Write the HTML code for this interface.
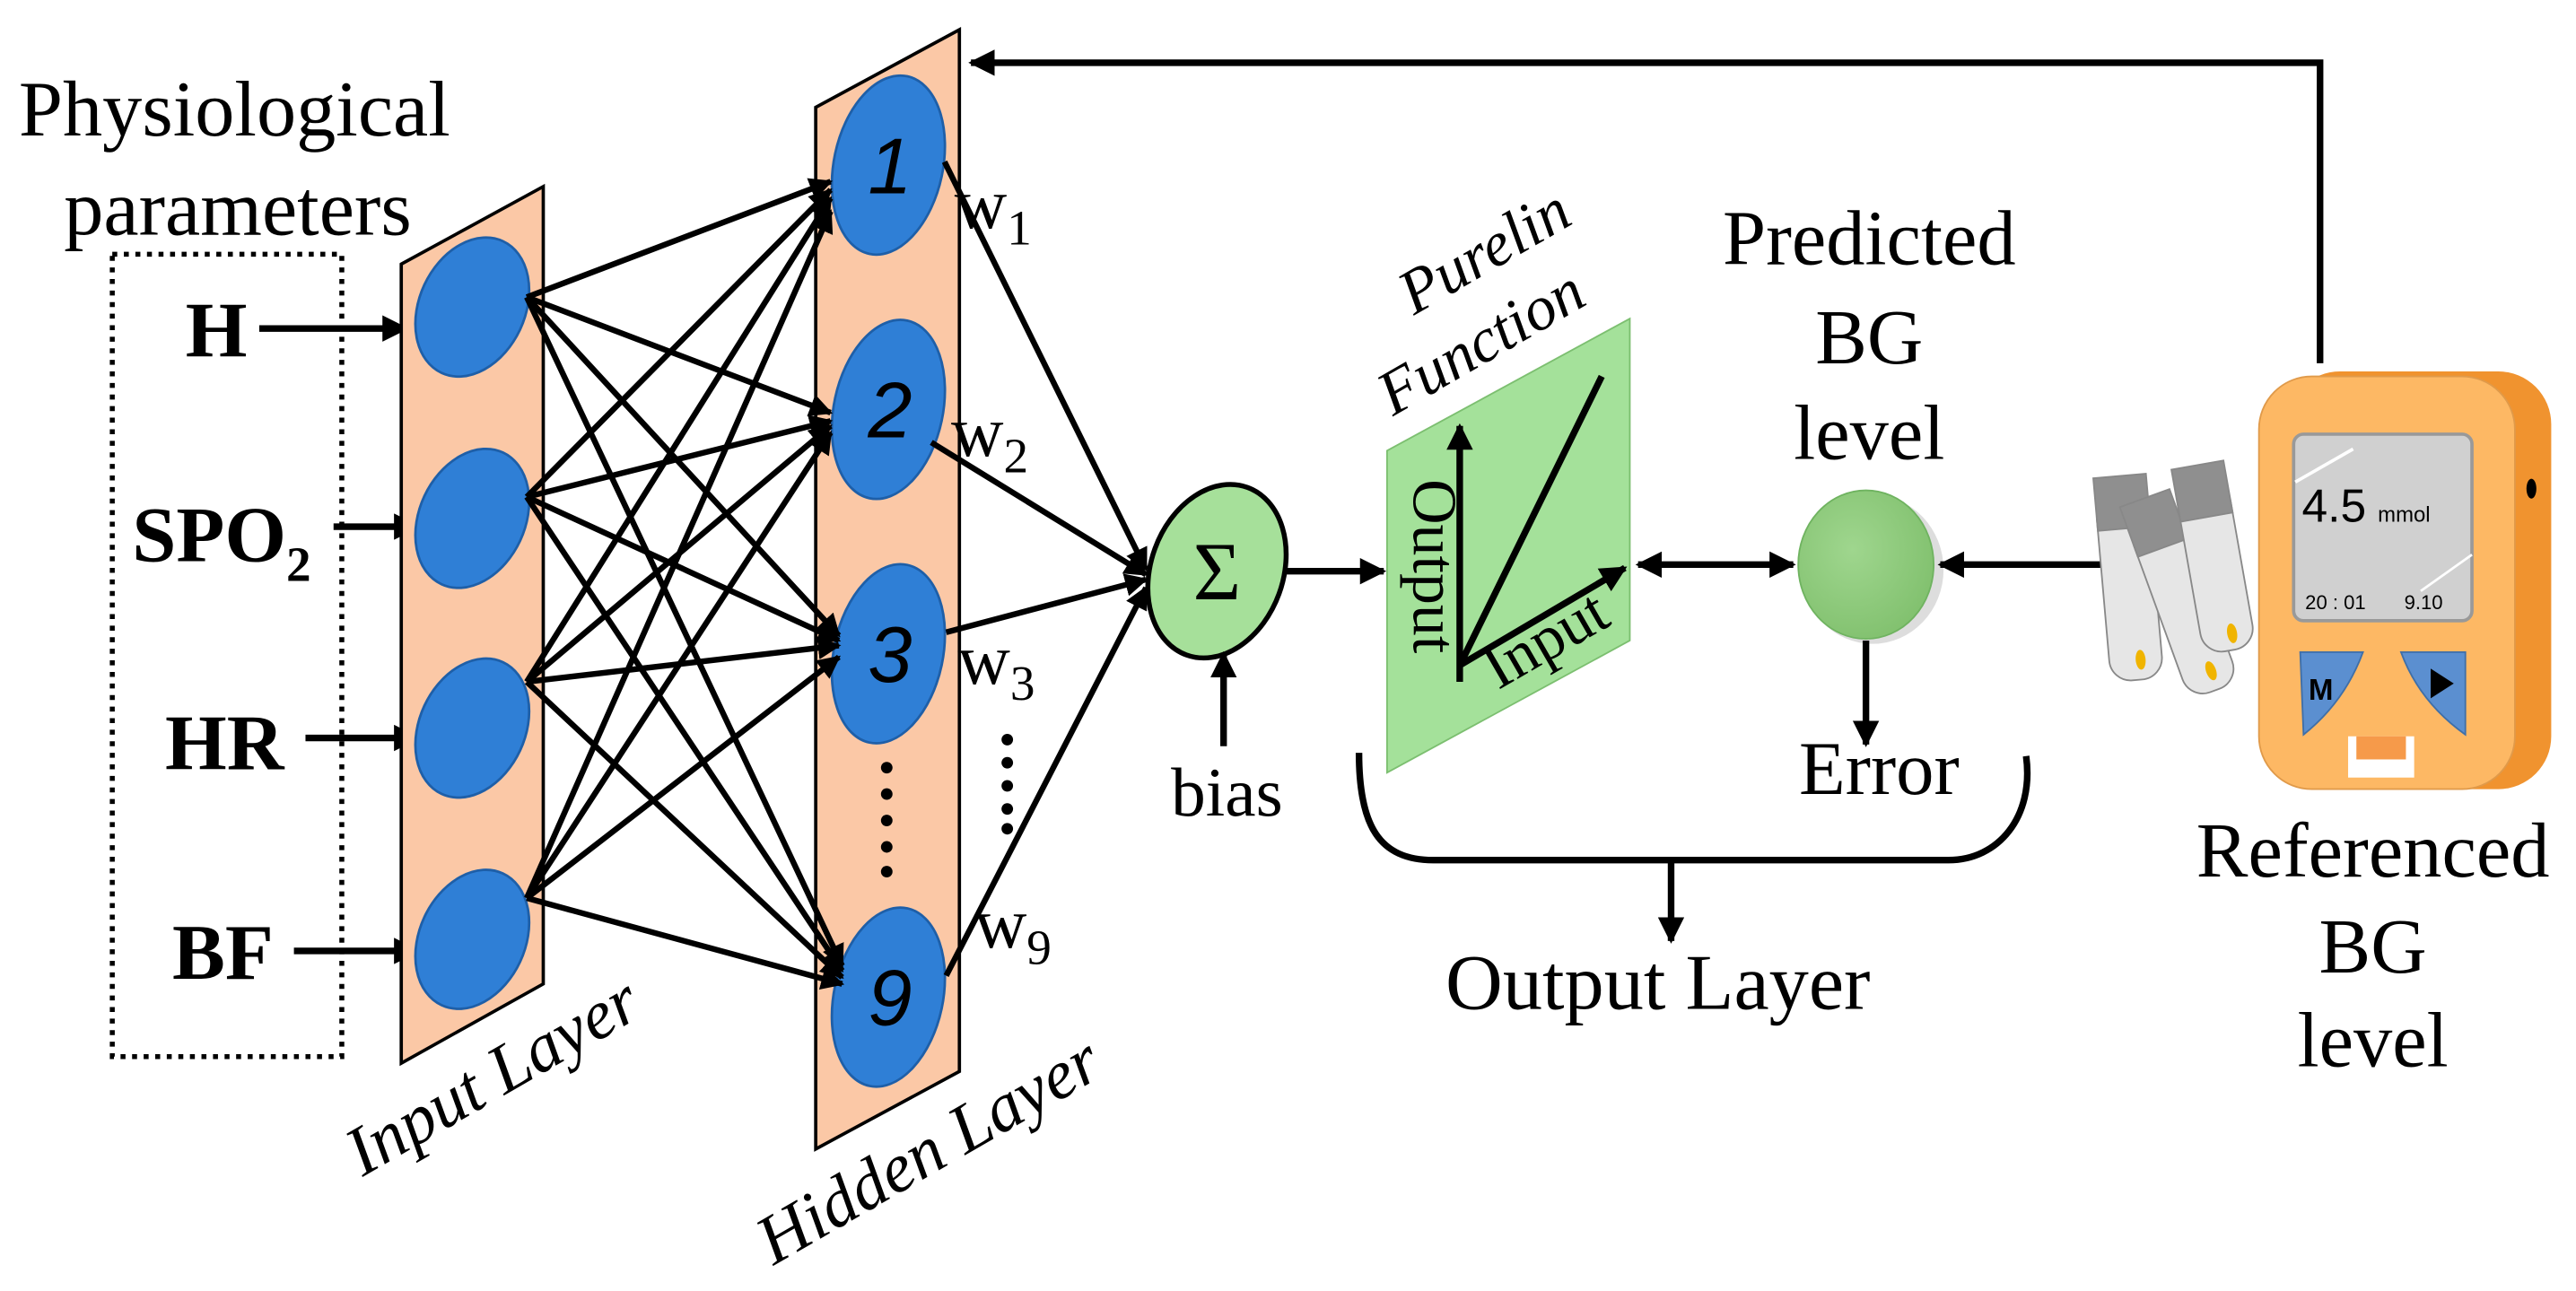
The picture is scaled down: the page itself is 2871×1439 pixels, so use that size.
<!DOCTYPE html>
<html><head><meta charset="utf-8"><style>
html,body{margin:0;padding:0;background:#fff;}
svg{display:block;}
text{font-family:"Liberation Serif",serif;fill:#000;}
.s{font-family:"Liberation Sans",sans-serif;}
</style></head><body>
<svg width="2871" height="1439" viewBox="0 0 1560 782" preserveAspectRatio="none" xmlns="http://www.w3.org/2000/svg" font-family="Liberation Serif, serif">
<defs>
<marker id="ah" viewBox="0 0 10 10" refX="9" refY="5" markerWidth="4" markerHeight="4" orient="auto-start-reverse" markerUnits="strokeWidth">
<path d="M0,0 L10,5 L0,10 Z" fill="#000"/></marker>
<radialGradient id="gc" cx="0.4" cy="0.4" r="0.7"><stop offset="0" stop-color="#9fd68e"/><stop offset="1" stop-color="#7fbf6c"/></radialGradient>
</defs>

<text x="142" y="82" font-size="48" text-anchor="middle">Physiological</text>
<text x="144" y="142" font-size="48" text-anchor="middle">parameters</text>
<rect x="68" y="154" width="139" height="486" fill="none" stroke="#000" stroke-width="3" stroke-dasharray="3,4"/>

<text x="131" y="216" font-size="48" font-weight="bold" text-anchor="middle">H</text>
<text x="80" y="340" font-size="48" font-weight="bold">SPO<tspan font-size="30" dy="12">2</tspan></text>
<text x="136" y="466" font-size="48" font-weight="bold" text-anchor="middle">HR</text>
<text x="135" y="593" font-size="48" font-weight="bold" text-anchor="middle">BF</text>

<g stroke="#000" stroke-width="4" marker-end="url(#ah)">
<line x1="157" y1="199" x2="246" y2="199"/>
<line x1="202" y1="319" x2="253" y2="319"/>
<line x1="185" y1="447" x2="253" y2="447"/>
<line x1="178" y1="576" x2="253" y2="576"/>
</g>

<polygon points="243,160 329,113 329,596 243,644" fill="#fbc8a6" stroke="#000" stroke-width="2"/>
<g fill="#2f7fd6" stroke="#1e5fa8" stroke-width="1.5">
<ellipse cx="286" cy="186" rx="32" ry="44" transform="rotate(25 286 186)"/>
<ellipse cx="286" cy="314" rx="32" ry="44" transform="rotate(25 286 314)"/>
<ellipse cx="286" cy="441" rx="32" ry="44" transform="rotate(25 286 441)"/>
<ellipse cx="286" cy="569" rx="32" ry="44" transform="rotate(25 286 569)"/>
</g>

<polygon points="494,65 581,18 581,649 494,696" fill="#fbc8a6" stroke="#000" stroke-width="2"/>
<g fill="#2f7fd6" stroke="#1e5fa8" stroke-width="1.5">
<ellipse cx="538" cy="100" rx="33" ry="55" transform="rotate(12 538 100)"/>
<ellipse cx="538" cy="248" rx="33" ry="55" transform="rotate(12 538 248)"/>
<ellipse cx="538" cy="396" rx="33" ry="55" transform="rotate(12 538 396)"/>
<ellipse cx="538" cy="604" rx="33" ry="55" transform="rotate(12 538 604)"/>
</g>
<g font-size="48" font-style="italic" text-anchor="middle">
<text class="s" x="539" y="117">1</text>
<text class="s" x="539" y="265">2</text>
<text class="s" x="539" y="413">3</text>
<text class="s" x="539" y="621">9</text>
</g>
<g fill="#000">
<circle cx="537" cy="465" r="3.5"/><circle cx="537" cy="481" r="3.5"/><circle cx="537" cy="497" r="3.5"/><circle cx="537" cy="513" r="3.5"/><circle cx="537" cy="528" r="3.5"/>
<circle cx="610" cy="448" r="3.5"/><circle cx="610" cy="462" r="3.5"/><circle cx="610" cy="476" r="3.5"/><circle cx="610" cy="490" r="3.5"/><circle cx="610" cy="502" r="3.5"/>
</g>

<g stroke="#000" stroke-width="3.5" marker-end="url(#ah)">
<line x1="319" y1="180" x2="503" y2="110"/>
<line x1="319" y1="180" x2="503" y2="250"/>
<line x1="319" y1="180" x2="508" y2="385"/>
<line x1="319" y1="180" x2="510" y2="585"/>
<line x1="319" y1="301" x2="503" y2="115"/>
<line x1="319" y1="301" x2="503" y2="255"/>
<line x1="319" y1="301" x2="508" y2="388"/>
<line x1="319" y1="301" x2="510" y2="588"/>
<line x1="319" y1="413" x2="503" y2="120"/>
<line x1="319" y1="413" x2="503" y2="258"/>
<line x1="319" y1="413" x2="508" y2="391"/>
<line x1="319" y1="413" x2="510" y2="592"/>
<line x1="319" y1="544" x2="503" y2="128"/>
<line x1="319" y1="544" x2="503" y2="262"/>
<line x1="319" y1="544" x2="508" y2="398"/>
<line x1="319" y1="544" x2="510" y2="596"/>
</g>

<text x="300" y="665" font-size="42" font-style="italic" text-anchor="middle" transform="rotate(-30 300 655)">Input Layer</text>
<text x="564" y="710" font-size="42" font-style="italic" text-anchor="middle" transform="rotate(-30 564 700)">Hidden Layer</text>

<g font-size="44">
<text x="578" y="138">w<tspan font-size="30" dy="10">1</tspan></text>
<text x="576" y="276">w<tspan font-size="30" dy="10">2</tspan></text>
<text x="580" y="414">w<tspan font-size="30" dy="10">3</tspan></text>
<text x="590" y="574">w<tspan font-size="30" dy="10">9</tspan></text>
</g>
<g stroke="#000" stroke-width="3.5" marker-end="url(#ah)">
<line x1="572" y1="98" x2="694" y2="345"/>
<line x1="564" y1="268" x2="694" y2="348"/>
<line x1="573" y1="383" x2="694" y2="351"/>
<line x1="573" y1="591" x2="694" y2="356"/>
</g>

<ellipse cx="737" cy="346" rx="40" ry="54" transform="rotate(20 737 346)" fill="#a6e09a" stroke="#000" stroke-width="3"/>
<text x="737" y="363" font-size="50" text-anchor="middle">Σ</text>
<g stroke="#000" stroke-width="4" marker-end="url(#ah)">
<line x1="778" y1="346" x2="838" y2="346"/>
<line x1="741" y1="452" x2="741" y2="396"/>
</g>
<text x="743" y="494" font-size="42" text-anchor="middle">bias</text>

<polygon points="840,273 987,193 987,388 840,468" fill="#a4e19a" stroke="#7cbf70" stroke-width="1"/>
<g stroke="#000" stroke-width="4">
<line x1="884" y1="413" x2="884" y2="258" marker-end="url(#ah)"/>
<line x1="884" y1="403" x2="984" y2="344" marker-end="url(#ah)"/>
<line x1="884" y1="403" x2="970" y2="228"/>
</g>
<text x="0" y="0" font-size="38" text-anchor="middle" transform="translate(856 343) rotate(90)">Output</text>
<text x="0" y="0" font-size="38" text-anchor="middle" transform="translate(942 398) rotate(-30)">Input</text>
<text x="0" y="0" font-size="38" font-style="italic" text-anchor="middle" transform="translate(905 163) rotate(-30)">Purelin</text>
<text x="0" y="0" font-size="38" font-style="italic" text-anchor="middle" transform="translate(903 218) rotate(-30)">Function</text>

<text x="1132" y="160" font-size="47" text-anchor="middle">Predicted</text>
<text x="1132" y="220" font-size="47" text-anchor="middle">BG</text>
<text x="1132" y="278" font-size="47" text-anchor="middle">level</text>
<ellipse cx="1134" cy="345" rx="43" ry="45" fill="#bbb" opacity="0.5"/>
<ellipse cx="1130" cy="342" rx="41" ry="45" fill="url(#gc)" stroke="#6fb360" stroke-width="1"/>
<g stroke="#000" stroke-width="4">
<line x1="992" y1="342" x2="1086" y2="342" marker-start="url(#ah)" marker-end="url(#ah)"/>
<line x1="1272" y1="342" x2="1175" y2="342" marker-end="url(#ah)"/>
<line x1="1130" y1="388" x2="1130" y2="451" marker-end="url(#ah)"/>
</g>
<text x="1138" y="481" font-size="46" text-anchor="middle">Error</text>

<path d="M823,456 C823,500 835,521 868,521 L1180,521 C1210,521 1232,495 1227,458" fill="none" stroke="#000" stroke-width="4"/>
<line x1="1012" y1="521" x2="1012" y2="570" stroke="#000" stroke-width="4" marker-end="url(#ah)"/>
<text x="1004" y="611" font-size="48" text-anchor="middle">Output Layer</text>

<polyline points="1405,220 1405,38 588,38" fill="none" stroke="#000" stroke-width="4" marker-end="url(#ah)"/>

<g stroke="#888" stroke-width="1">
<g transform="rotate(-5 1290 350)"><rect x="1273" y="300" width="32" height="112" rx="13" fill="#e6e6e6"/><rect x="1273" y="288" width="32" height="32" fill="#8f8f8f"/><ellipse cx="1292" cy="400" rx="3" ry="6" fill="#f0b400" stroke="none"/></g>
<g transform="rotate(-20 1320 360)"><rect x="1304" y="310" width="32" height="112" rx="13" fill="#e6e6e6"/><rect x="1304" y="298" width="32" height="32" fill="#8f8f8f"/><ellipse cx="1322" cy="410" rx="3" ry="6" fill="#f0b400" stroke="none"/></g>
<g transform="rotate(-10 1340 340)"><rect x="1325" y="293" width="32" height="102" rx="13" fill="#e6e6e6"/><rect x="1325" y="281" width="32" height="32" fill="#8f8f8f"/><ellipse cx="1344" cy="385" rx="3" ry="6" fill="#f0b400" stroke="none"/></g>
</g>

<rect x="1385" y="225" width="160" height="253" rx="32" fill="#f0932f"/>
<rect x="1368" y="228" width="155" height="250" rx="32" fill="#fdb864" stroke="#e09a4a" stroke-width="1"/>
<ellipse cx="1533" cy="296" rx="3" ry="6" fill="#000"/>
<rect x="1389" y="263" width="108" height="113" rx="6" fill="#d0d0d0" stroke="#999" stroke-width="2"/>
<line x1="1390" y1="292" x2="1425" y2="272" stroke="#fff" stroke-width="2"/>
<line x1="1466" y1="358" x2="1497" y2="336" stroke="#fff" stroke-width="1.5"/>
<text class="s" x="1394" y="316" font-size="28" fill="#5a6f96">4.5</text>
<text class="s" x="1440" y="316" font-size="13" fill="#5a6f96">mmol</text>
<text class="s" x="1396" y="369" font-size="12">20 : 01</text>
<text class="s" x="1456" y="369" font-size="12">9.10</text>
<path d="M1393,395 L1431,395 Q1420,425 1395,445 Z" fill="#5b8fd0" stroke="#3f6fa8" stroke-width="1"/>
<path d="M1454,395 L1493,395 L1493,445 Q1465,425 1454,395 Z" fill="#5b8fd0" stroke="#3f6fa8" stroke-width="1"/>
<text class="s" x="1398" y="424" font-size="18" font-weight="bold">M</text>
<path d="M1472,405 L1486,414 L1472,423 Z" fill="#000"/>
<rect x="1422" y="446" width="40" height="25" fill="#fff"/>
<rect x="1427" y="446" width="30" height="14" fill="#f69a4a"/>

<text x="1437" y="531" font-size="47" text-anchor="middle">Referenced</text>
<text x="1437" y="589" font-size="47" text-anchor="middle">BG</text>
<text x="1437" y="646" font-size="47" text-anchor="middle">level</text>
</svg>
</body></html>
